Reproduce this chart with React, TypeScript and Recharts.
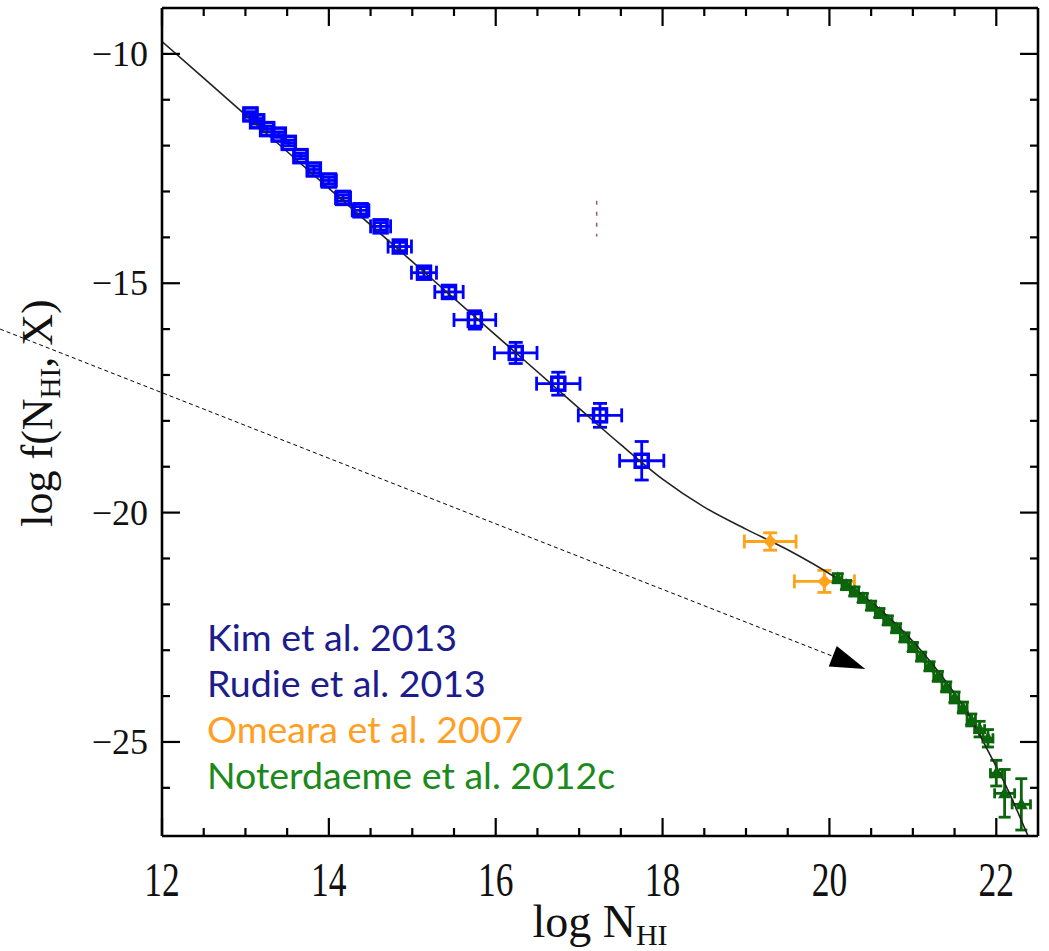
import React from 'react';
import { ComposedChart, XAxis, YAxis, Scatter, Line, ErrorBar, ReferenceLine } from 'recharts';

// ---------- data ----------
const xMajorTicks = [12, 14, 16, 18, 20, 22];
const xMinorTicks = [12.5, 13, 13.5, 14.5, 15, 15.5, 16.5, 17, 17.5, 18.5, 19, 19.5, 20.5, 21, 21.5];
const yMajorTicks = [-10, -15, -20, -25];
const yMinorTicks = [-11, -12, -13, -14, -16, -17, -18, -19, -21, -22, -23, -24, -26];

// Kim et al. 2013 / Rudie et al. 2013 (blue)
const blueX = [13.06, 13.14, 13.26, 13.40, 13.52, 13.66, 13.82, 14.00, 14.17, 14.38, 14.62, 14.85, 15.14, 15.44, 15.75, 16.24, 16.75, 17.25, 17.75];
const blueY = [-11.32, -11.47, -11.64, -11.76, -11.94, -12.23, -12.52, -12.76, -13.14, -13.41, -13.76, -14.20, -14.77, -15.19, -15.80, -16.52, -17.19, -17.88, -18.87];
const blueXErr = [0.08, 0.08, 0.08, 0.08, 0.08, 0.08, 0.08, 0.09, 0.09, 0.1, 0.12, 0.14, 0.15, 0.17, 0.25, 0.255, 0.26, 0.26, 0.265];
const blueYErr = [0.06, 0.06, 0.06, 0.06, 0.06, 0.06, 0.07, 0.07, 0.07, 0.08, 0.08, 0.09, 0.09, 0.11, 0.2, 0.23, 0.25, 0.26, 0.42];

// Omeara et al. 2007 (orange)
const omX = [19.29, 19.94];
const omY = [-20.63, -21.5];
const omXErr = [0.31, 0.36];
const omYErr = [0.19, 0.24];

// Noterdaeme et al. 2012c (green)
const notX = [20.1, 20.2, 20.3, 20.4, 20.5, 20.6, 20.7, 20.8, 20.9, 21.0, 21.1, 21.2, 21.3, 21.4, 21.5, 21.6, 21.7, 21.8, 21.9, 22.0, 22.1, 22.3];
const notY = [-21.43, -21.58, -21.72, -21.86, -22.03, -22.19, -22.35, -22.52, -22.72, -22.93, -23.14, -23.35, -23.57, -23.8, -24.03, -24.25, -24.52, -24.72, -24.92, -25.68, -26.12, -26.36];
const notXErr = [0.05, 0.05, 0.05, 0.05, 0.05, 0.05, 0.05, 0.05, 0.05, 0.05, 0.05, 0.05, 0.05, 0.05, 0.05, 0.05, 0.05, 0.06, 0.06, 0.07, 0.12, 0.11];
const notYErr = [0.1, 0.1, 0.1, 0.1, 0.1, 0.1, 0.1, 0.1, 0.1, 0.1, 0.1, 0.1, 0.11, 0.11, 0.12, 0.12, 0.13, 0.17, 0.19, 0.28, 0.52, 0.56];

// fitted curve
const fitX = [12, 13, 14, 15, 16, 17, 17.5, 18.0, 18.5, 19.0, 19.5, 20.06, 20.62, 21.26, 21.66, 21.94, 22.14, 22.38];
const fitY = [-9.73, -11.33, -12.93, -14.53, -16.13, -17.73, -18.52, -19.27, -19.88, -20.36, -20.81, -21.4, -22.13, -23.36, -24.38, -25.33, -26.05, -27.05];

// annotation arrow (start, tip) and stray mark
const arrowX = [10.06, 20.43];
const arrowY = [-16.0, -23.41];
const strayX = [17.21, 17.21];
const strayY = [-13.2, -13.98];

const legendLabels = ['Kim et al. 2013', 'Rudie et al. 2013', 'Omeara et al. 2007', 'Noterdaeme et al. 2012c'];

// ---------- build ----------
const zipErr = (xs: number[], ys: number[], ex: number[], ey: number[]) =>
  xs.map((x, i) => ({ x, y: ys[i], ex: ex[i], ey: ey[i] }));
const blueData = zipErr(blueX, blueY, blueXErr, blueYErr);
const omData = zipErr(omX, omY, omXErr, omYErr);
const notData = zipErr(notX, notY, notXErr, notYErr);
const fitData = fitX.map((x, i) => ({ x, y: fitY[i] }));

const SERIF = '"Liberation Serif", "Times New Roman", serif';
const BLUE = '#0000ff';
const ORANGE = '#ffa31a';
const GREEN = '#0b650b';
const legendColors = ['#1c1c8c', '#1c1c8c', '#ffa024', '#1a8a1a'];

const fmt = (v: number) => (v < 0 ? '\u2212' + Math.abs(v) : String(v));

const makeTick = (side: string, len: number, label: boolean) => (props: any) => {
  const { x, y, payload } = props;
  const ls = { stroke: '#000', strokeWidth: 2.2 };
  let ln: any = null;
  let tx: any = null;
  if (side === 'bottom') {
    ln = <line x1={x} y1={y} x2={x} y2={y - len} {...ls} />;
    if (label)
      tx = (
        <text transform={`translate(${x},${y + 60}) scale(0.74,1)`} textAnchor="middle" fontFamily={SERIF} fontSize={48} fill="#111">
          {payload.value}
        </text>
      );
  } else if (side === 'top') {
    ln = <line x1={x} y1={y} x2={x} y2={y + len} {...ls} />;
  } else if (side === 'left') {
    ln = <line x1={x} y1={y} x2={x + len} y2={y} {...ls} />;
    if (label)
      tx = (
        <text x={x - 14} y={y + 12} textAnchor="end" fontFamily={SERIF} fontSize={36} fill="#111">
          {fmt(payload.value)}
        </text>
      );
  } else {
    ln = <line x1={x} y1={y} x2={x - len} y2={y} {...ls} />;
  }
  return (
    <g>
      {ln}
      {tx}
    </g>
  );
};

const BlueSquare = (p: any) => (
  <rect x={p.cx - 6.5} y={p.cy - 6.5} width={13} height={13} fill="none" stroke={BLUE} strokeWidth={3.5} />
);
const OrangeDiamond = (p: any) => (
  <polygon points={`${p.cx},${p.cy - 7} ${p.cx + 7},${p.cy} ${p.cx},${p.cy + 7} ${p.cx - 7},${p.cy}`} fill={ORANGE} />
);
const GreenTri = (p: any) => (
  <polygon points={`${p.cx},${p.cy - 7} ${p.cx + 6.5},${p.cy + 5} ${p.cx - 6.5},${p.cy + 5}`} fill={GREEN} />
);

const ArrowShape = (p: any) => {
  const { x1, y1, x2, y2 } = p;
  const dx = x2 - x1;
  const dy = y2 - y1;
  const L = Math.sqrt(dx * dx + dy * dy) || 1;
  const ux = dx / L;
  const uy = dy / L;
  const bx = x2 - 35 * ux;
  const by = y2 - 35 * uy;
  const px = -uy * 11;
  const py = ux * 11;
  return (
    <g>
      <line x1={x1} y1={y1} x2={bx} y2={by} stroke="#000" strokeWidth={1} strokeDasharray="4 3" />
      <polygon points={`${x2},${y2} ${bx + px},${by + py} ${bx - px},${by - py}`} fill="#000" />
    </g>
  );
};

const XTitle = (p: any) => {
  const vb = p.viewBox || {};
  const cx = vb.x + vb.width / 2;
  return (
    <text x={cx} y={vb.y + 101} textAnchor="middle" fontFamily={SERIF} fontSize={46} fill="#111">
      log N<tspan fontSize={30} dy={8}>HI</tspan>
    </text>
  );
};

const YTitle = (p: any) => {
  const vb = p.viewBox || {};
  const cy = vb.y + vb.height / 2 - 9;
  return (
    <text transform={`translate(52,${cy}) rotate(-90)`} textAnchor="middle" fontFamily={SERIF} fontSize={44} fill="#111">
      log f(N<tspan fontSize={29} dy={8}>HI</tspan>
      <tspan dy={-8}>, X)</tspan>
    </text>
  );
};

const axisLineStyle = { stroke: '#000', strokeWidth: 2.6 };
const XD: [number, number] = [12, 22.5];
const YD: [number, number] = [-27.05, -9];

export default function App() {
  return (
    <div style={{ position: 'absolute', left: 0, top: 0, width: 1049, height: 951, background: '#fff' }}>
      <ComposedChart width={1049} height={951} margin={{ top: 6, right: 9, bottom: 113, left: 160 }}>
        <XAxis xAxisId="xb" orientation="bottom" type="number" dataKey="x" domain={XD} allowDataOverflow ticks={xMajorTicks} interval={0}
          height={1} tickLine={false} tickSize={0} tickMargin={0} axisLine={axisLineStyle} tick={makeTick('bottom', 18, true)}
          label={{ content: XTitle }} />
        <XAxis xAxisId="xbm" orientation="bottom" type="number" dataKey="x" domain={XD} allowDataOverflow ticks={xMinorTicks} interval={0}
          height={1} tickLine={false} tickSize={0} tickMargin={0} axisLine={false} tick={makeTick('bottom', 9, false)} />
        <XAxis xAxisId="xt" orientation="top" type="number" dataKey="x" domain={XD} allowDataOverflow ticks={xMajorTicks} interval={0}
          height={1} tickLine={false} tickSize={0} tickMargin={0} axisLine={axisLineStyle} tick={makeTick('top', 18, false)} />
        <XAxis xAxisId="xtm" orientation="top" type="number" dataKey="x" domain={XD} allowDataOverflow ticks={xMinorTicks} interval={0}
          height={1} tickLine={false} tickSize={0} tickMargin={0} axisLine={false} tick={makeTick('top', 9, false)} />
        <YAxis yAxisId="yl" orientation="left" type="number" dataKey="y" domain={YD} allowDataOverflow ticks={yMajorTicks} interval={0}
          width={1} tickLine={false} tickSize={0} tickMargin={0} axisLine={axisLineStyle} tick={makeTick('left', 18, true)}
          label={{ content: YTitle }} />
        <YAxis yAxisId="ylm" orientation="left" type="number" dataKey="y" domain={YD} allowDataOverflow ticks={yMinorTicks} interval={0}
          width={1} tickLine={false} tickSize={0} tickMargin={0} axisLine={false} tick={makeTick('left', 9, false)} />
        <YAxis yAxisId="yr" orientation="right" type="number" dataKey="y" domain={YD} allowDataOverflow ticks={yMajorTicks} interval={0}
          width={1} tickLine={false} tickSize={0} tickMargin={0} axisLine={axisLineStyle} tick={makeTick('right', 18, false)} />
        <YAxis yAxisId="yrm" orientation="right" type="number" dataKey="y" domain={YD} allowDataOverflow ticks={yMinorTicks} interval={0}
          width={1} tickLine={false} tickSize={0} tickMargin={0} axisLine={false} tick={makeTick('right', 9, false)} />

        <Scatter xAxisId="xb" yAxisId="yl" data={blueData} dataKey="y" shape={BlueSquare} isAnimationActive={false}>
          <ErrorBar dataKey="ex" direction="x" width={7} stroke={BLUE} strokeWidth={2.8} isAnimationActive={false} />
          <ErrorBar dataKey="ey" direction="y" width={7} stroke={BLUE} strokeWidth={2.8} isAnimationActive={false} />
        </Scatter>
        <Scatter xAxisId="xb" yAxisId="yl" data={omData} dataKey="y" shape={OrangeDiamond} isAnimationActive={false}>
          <ErrorBar dataKey="ex" direction="x" width={7} stroke={ORANGE} strokeWidth={2.8} isAnimationActive={false} />
          <ErrorBar dataKey="ey" direction="y" width={7} stroke={ORANGE} strokeWidth={2.8} isAnimationActive={false} />
        </Scatter>
        <Scatter xAxisId="xb" yAxisId="yl" data={notData} dataKey="y" shape={GreenTri} isAnimationActive={false}>
          <ErrorBar dataKey="ex" direction="x" width={5} stroke={GREEN} strokeWidth={2.8} isAnimationActive={false} />
          <ErrorBar dataKey="ey" direction="y" width={6} stroke={GREEN} strokeWidth={2.8} isAnimationActive={false} />
        </Scatter>
        <Line xAxisId="xb" yAxisId="yl" data={fitData} dataKey="y" type="monotone" dot={false} activeDot={false}
          stroke="#222" strokeWidth={1.6} isAnimationActive={false} />

        <ReferenceLine xAxisId="xb" yAxisId="yl" ifOverflow="visible"
          segment={[{ x: arrowX[0], y: arrowY[0] }, { x: arrowX[1], y: arrowY[1] }]} shape={ArrowShape} />
        <ReferenceLine xAxisId="xb" yAxisId="yl" ifOverflow="visible"
          segment={[{ x: strayX[0], y: strayY[0] }, { x: strayX[1], y: strayY[1] }]}
          stroke="#9a5a5a" strokeWidth={1.5} strokeDasharray="4 7" />
      </ComposedChart>
      <div style={{ position: 'absolute', left: 207, top: 614, fontFamily: 'Lato, sans-serif', fontSize: 37.5, lineHeight: '46px', whiteSpace: 'nowrap' }}>
        {legendLabels.map((t, i) => (
          <div key={t} style={{ color: legendColors[i] }}>{t}</div>
        ))}
      </div>
    </div>
  );
}
